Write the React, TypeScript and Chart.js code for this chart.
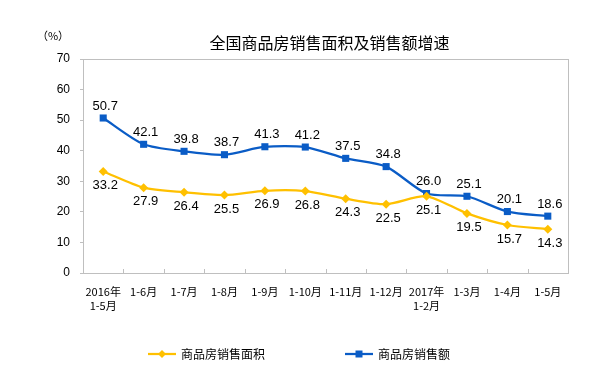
import React, { useEffect, useRef } from "react";
import { Chart, registerables } from "chart.js";

Chart.register(...registerables);

const categories: string[][] = [
  ["2016年", "1-5月"],
  ["1-6月"],
  ["1-7月"],
  ["1-8月"],
  ["1-9月"],
  ["1-10月"],
  ["1-11月"],
  ["1-12月"],
  ["2017年", "1-2月"],
  ["1-3月"],
  ["1-4月"],
  ["1-5月"],
];

const areaGrowth: number[] = [33.2, 27.9, 26.4, 25.5, 26.9, 26.8, 24.3, 22.5, 25.1, 19.5, 15.7, 14.3];
const amountGrowth: number[] = [50.7, 42.1, 39.8, 38.7, 41.3, 41.2, 37.5, 34.8, 26.0, 25.1, 20.1, 18.6];

const seriesNames = ["商品房销售面积", "商品房销售额"];
const titleText = "全国商品房销售面积及销售额增速";
const unitText = "（%）";
const yTicks = { min: 0, max: 70, step: 10 };

const YELLOW = "#FFC000";
const BLUE = "#0A5CC6";
const GRAY = "#BFBFBF";
const CJK = '"Noto Sans CJK SC", "Noto Sans", sans-serif';
const LATIN = '"Liberation Sans", Arial, sans-serif';

const decorPlugin = {
  id: "decor",
  afterDraw(chart: any) {
    const ctx = chart.ctx as CanvasRenderingContext2D;
    const a = chart.chartArea;
    ctx.save();
    // plot box
    ctx.strokeStyle = GRAY;
    ctx.lineWidth = 1;
    ctx.strokeRect(Math.round(a.left) + 0.5, Math.round(a.top) + 0.5, Math.round(a.right - a.left), Math.round(a.bottom - a.top));
    // inner x ticks at category boundaries
    const xs = chart.scales.x;
    const n = categories.length;
    for (let i = 0; i < n - 1; i++) {
      const x0 = xs.getPixelForValue(i);
      const x1 = xs.getPixelForValue(i + 1);
      const bx = Math.round((x0 + x1) / 2) + 0.5;
      ctx.beginPath();
      ctx.moveTo(bx, a.bottom);
      ctx.lineTo(bx, a.bottom - 4);
      ctx.stroke();
    }
    // title
    ctx.fillStyle = "#000";
    ctx.font = `16px ${CJK}`;
    ctx.textAlign = "center";
    ctx.textBaseline = "middle";
    ctx.fillText(titleText, (a.left + a.right) / 2 + 4, 43);
    // unit
    ctx.font = `11px ${CJK}`;
    ctx.fillText(unitText, 53, 36);
    // legend
    const ly = 354;
    const items = [
      { x: 148, color: YELLOW, style: "diamond", label: seriesNames[0] },
      { x: 345, color: BLUE, style: "square", label: seriesNames[1] },
    ];
    for (const it of items) {
      ctx.strokeStyle = it.color;
      ctx.fillStyle = it.color;
      ctx.lineWidth = 2.25;
      ctx.beginPath();
      ctx.moveTo(it.x, ly);
      ctx.lineTo(it.x + 28, ly);
      ctx.stroke();
      const cx = it.x + 14;
      ctx.beginPath();
      if (it.style === "diamond") {
        ctx.moveTo(cx, ly - 4);
        ctx.lineTo(cx + 4, ly);
        ctx.lineTo(cx, ly + 4);
        ctx.lineTo(cx - 4, ly);
        ctx.closePath();
      } else {
        ctx.rect(cx - 3.5, ly - 3.5, 7, 7);
      }
      ctx.fill();
      ctx.fillStyle = "#000";
      ctx.font = `12px ${CJK}`;
      ctx.textAlign = "left";
      ctx.textBaseline = "middle";
      ctx.fillText(it.label, it.x + 33, ly);
    }
    ctx.restore();
  },
  afterDatasetsDraw(chart: any) {
    const ctx = chart.ctx as CanvasRenderingContext2D;
    ctx.save();
    ctx.fillStyle = "#000";
    ctx.font = `13px ${LATIN}`;
    ctx.textAlign = "center";
    ctx.textBaseline = "middle";
    chart.data.datasets.forEach((ds: any, di: number) => {
      const meta = chart.getDatasetMeta(di);
      const dy = di === 1 ? -12 : 14;
      meta.data.forEach((pt: any, i: number) => {
        ctx.fillText(Number(ds.data[i]).toFixed(1), pt.x + 2, pt.y + dy);
      });
    });
    ctx.restore();
  },
};

export default function App() {
  const ref = useRef<HTMLCanvasElement | null>(null);
  useEffect(() => {
    if (!ref.current) return;
    const chart = new Chart(ref.current, {
      type: "line",
      data: {
        labels: categories,
        datasets: [
          {
            label: seriesNames[0],
            data: areaGrowth,
            borderColor: YELLOW,
            backgroundColor: YELLOW,
            borderWidth: 2.25,
            pointStyle: "rectRot",
            pointRadius: 4.5,
            pointBorderWidth: 0,
            tension: 0.25,
          },
          {
            label: seriesNames[1],
            data: amountGrowth,
            borderColor: BLUE,
            backgroundColor: BLUE,
            borderWidth: 2.25,
            pointStyle: "rect",
            pointRadius: 5,
            pointBorderWidth: 0,
            tension: 0.25,
          },
        ],
      },
      options: {
        responsive: false,
        animation: false,
        layout: { padding: { top: 59, right: 40, left: 0, bottom: 0 } },
        plugins: {
          legend: { display: false },
          title: { display: false },
          tooltip: { enabled: false },
        },
        scales: {
          x: {
            offset: true,
            grid: { display: false, drawTicks: false, offset: true },
            border: { display: false },
            ticks: {
              color: "#000",
              font: { family: CJK, size: 11, lineHeight: 1.25 },
              padding: 12,
              maxRotation: 0,
              autoSkip: false,
            },
            afterFit(scale: any) {
              scale.height = 113;
            },
          },
          y: {
            min: yTicks.min,
            max: yTicks.max,
            grid: { drawOnChartArea: false, drawTicks: true, tickLength: 3, color: GRAY },
            border: { display: false },
            ticks: {
              stepSize: yTicks.step,
              color: "#000",
              font: { family: LATIN, size: 12 },
              padding: 10,
            },
            afterFit(scale: any) {
              scale.width = 83;
            },
          },
        },
      },
      plugins: [decorPlugin],
    });
    return () => chart.destroy();
  }, []);
  return (
    <div style={{ position: "absolute", left: 0, top: 0, width: 608, height: 386, background: "#fff" }}>
      <canvas ref={ref} width={608} height={386} />
    </div>
  );
}
